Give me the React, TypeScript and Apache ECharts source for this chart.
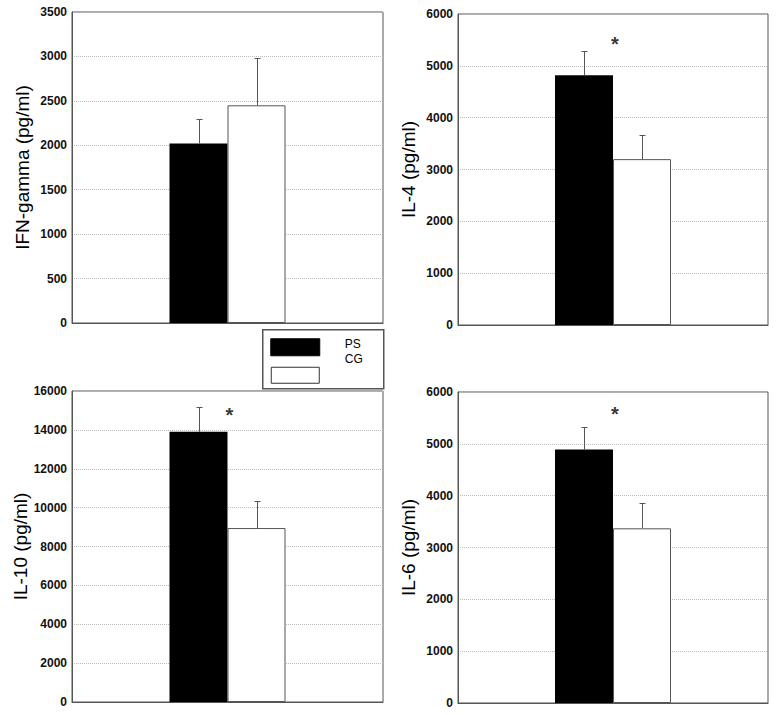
import React, { useEffect, useRef } from "react";
import * as echarts from "echarts";

const panelNames = ["IFN-gamma (pg/ml)", "IL-4 (pg/ml)", "IL-10 (pg/ml)", "IL-6 (pg/ml)"];
const yMax = [3500, 6000, 16000, 6000];
const yInterval = [500, 1000, 2000, 1000];
const groups = ["PS", "CG"];
const psMean = [2020, 4820, 13900, 4890];
const psErr = [280, 460, 1300, 440];
const cgMean = [2450, 3200, 8950, 3370];
const cgErr = [530, 460, 1380, 490];
const starValue: (number | null)[] = [null, 5420, 14750, 5570];

const FONT = "'Liberation Sans', Arial, sans-serif";
const gridRects = [
  { left: 72, top: 12, width: 311, height: 311 },
  { left: 458, top: 14, width: 310, height: 311 },
  { left: 72, top: 391, width: 311, height: 311 },
  { left: 458, top: 392, width: 310, height: 311 },
];
const BAR_W = 58;

export default function App() {
  const ref = useRef<HTMLDivElement>(null);
  useEffect(() => {
    if (!ref.current) return;
    const chart = echarts.init(ref.current, null, { renderer: "svg" });
    const grid = gridRects.map((g) => ({
      ...g,
      show: true,
      borderColor: "#555",
      borderWidth: 1,
      backgroundColor: "#fff",
      containLabel: false,
    }));
    const xAxis = gridRects.map((_, i) => ({
      type: "category",
      gridIndex: i,
      data: [""],
      axisLine: { show: true, lineStyle: { color: "#555" } },
      axisTick: { show: false },
      axisLabel: { show: false },
    }));
    const yAxis = gridRects.map((_, i) => ({
      type: "value",
      gridIndex: i,
      min: 0,
      max: yMax[i],
      interval: yInterval[i],
      name: panelNames[i],
      nameLocation: "middle",
      nameGap: 40,
      nameTextStyle: { fontSize: 19, color: "#000", fontFamily: FONT },
      axisLine: { show: true, lineStyle: { color: "#555" } },
      axisTick: { show: false },
      axisLabel: {
        fontSize: 12,
        fontWeight: "bold",
        color: "#111",
        fontFamily: FONT,
        margin: 5,
        formatter: (v: number) => String(v),
      },
      splitLine: { show: true, lineStyle: { type: "dotted", color: "#bbb", width: 1 } },
    }));
    const series: any[] = [];
    gridRects.forEach((_, i) => {
      series.push({
        type: "bar",
        name: groups[0],
        xAxisIndex: i,
        yAxisIndex: i,
        data: [psMean[i]],
        barWidth: BAR_W,
        barGap: 0,
        itemStyle: { color: "#000", borderColor: "#000", borderWidth: 0 },
      });
      series.push({
        type: "bar",
        name: groups[1],
        xAxisIndex: i,
        yAxisIndex: i,
        data: [cgMean[i]],
        barWidth: BAR_W,
        barGap: 0,
        itemStyle: { color: "#fff", borderColor: "#555", borderWidth: 1 },
      });
      series.push({
        type: "custom",
        xAxisIndex: i,
        yAxisIndex: i,
        z: 5,
        data: [
          [0, psMean[i], psMean[i] + psErr[i], -1],
          [0, cgMean[i], cgMean[i] + cgErr[i], 1],
        ],
        renderItem: (params: any, api: any) => {
          const side = api.value(3);
          const base = api.coord([api.value(0), api.value(1)]);
          const top = api.coord([api.value(0), api.value(2)]);
          const x = Math.round(base[0] + (side * BAR_W) / 2) + 0.5;
          const yb = base[1];
          const yt = Math.round(top[1]) + 0.5;
          const style = { stroke: "#555", lineWidth: 1 };
          return {
            type: "group",
            children: [
              { type: "line", shape: { x1: x, y1: yb, x2: x, y2: yt }, style },
              { type: "line", shape: { x1: x - 3, y1: yt, x2: x + 3, y2: yt }, style },
            ],
          };
        },
      });
      if (starValue[i] != null) {
        series.push({
          type: "scatter",
          xAxisIndex: i,
          yAxisIndex: i,
          data: [[0, starValue[i]]],
          symbolSize: 1,
          itemStyle: { color: "rgba(0,0,0,0)" },
          label: {
            show: true,
            formatter: "*",
            position: "inside",
            offset: [2, 0],
            fontSize: 20,
            fontWeight: "bold",
            color: "#000",
            fontFamily: FONT,
          },
        });
      }
    });
    const legendGraphic = {
      type: "group",
      left: 262,
      top: 329,
      children: [
        {
          type: "rect",
          shape: { x: 0, y: 0, width: 121, height: 59 },
          style: { fill: "#fff", stroke: "#555", lineWidth: 1.5 },
        },
        {
          type: "rect",
          shape: { x: 8, y: 9, width: 49, height: 17 },
          style: { fill: "#000", stroke: "#000", lineWidth: 1 },
        },
        {
          type: "rect",
          shape: { x: 8.5, y: 37.5, width: 48, height: 16 },
          style: { fill: "#fff", stroke: "#333", lineWidth: 1 },
        },
        {
          type: "text",
          x: 82,
          y: 14,
          style: { text: groups[0], fontSize: 12, fill: "#000", fontFamily: FONT, textVerticalAlign: "middle" },
        },
        {
          type: "text",
          x: 82,
          y: 29,
          style: { text: groups[1], fontSize: 12, fill: "#000", fontFamily: FONT, textVerticalAlign: "middle" },
        },
      ],
    };
    chart.setOption({
      animation: false,
      backgroundColor: "#fff",
      grid,
      xAxis,
      yAxis,
      series,
      graphic: [legendGraphic],
    });
    return () => chart.dispose();
  }, []);
  return (
    <div
      ref={ref}
      style={{ position: "absolute", left: 0, top: 0, width: 776, height: 715 }}
    />
  );
}
